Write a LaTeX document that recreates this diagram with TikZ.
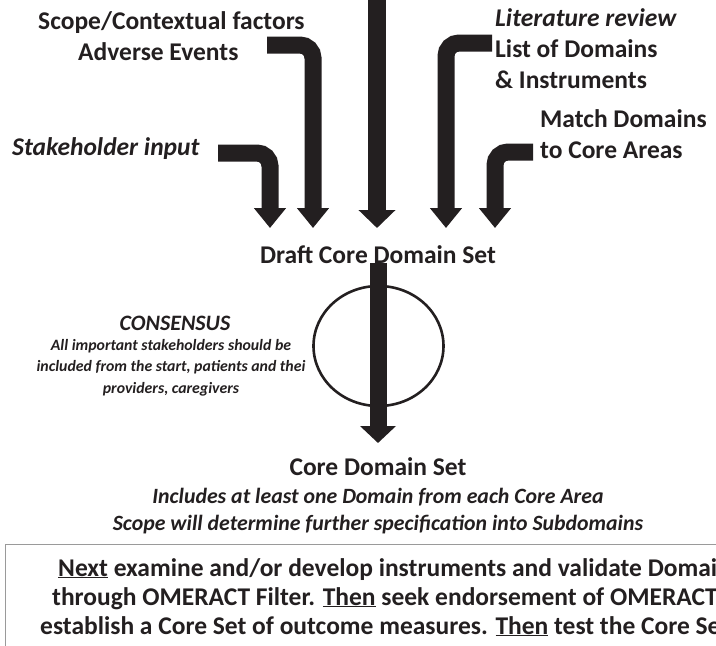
\documentclass[tikz,border=0pt]{standalone}
\usepackage{fontspec}
\setmainfont{Carlito}
\usetikzlibrary{arrows.meta}
\definecolor{ink}{HTML}{231F20}
\definecolor{boxgray}{HTML}{9A9A9A}

\begin{document}
\begin{tikzpicture}[x=1pt,y=-1pt,
    fatarrow/.style={line width=17pt, draw=ink, rounded corners=13pt,
      -{Triangle[width=31pt,length=20pt]}},
    mainarrow/.style={fatarrow, line width=18pt, -{Triangle[width=36pt,length=18pt]}},
    head/.style={inner sep=0pt, text=ink, font=\bfseries\fontsize{25.5}{31}\selectfont},
    note/.style={inner sep=0pt, text=ink, font=\bfseries\itshape\fontsize{21.8}{27}\selectfont},
    small/.style={inner sep=0pt, text=ink, font=\bfseries\itshape\fontsize{15.8}{21.5}\selectfont},
    boxtext/.style={inner sep=0pt, text=ink, anchor=base west, font=\bfseries\fontsize{25.5}{28}\selectfont}]
  \useasboundingbox (0,0) rectangle (716,646);
  \clip (0,0) rectangle (716,646);

  % inputs (base = last line)
  \node[head, anchor=base west, align=left] (scope) at (38,60) {Scope/Contextual factors\\\hspace*{40pt}Adverse Events};
  \node[head, anchor=base west] (stake) at (12,155) {\itshape Stakeholder input};
  \node[head, anchor=base west, align=left] (lit) at (495,88) {\itshape Literature review\\List of Domains\\\& Instruments};
  \node[head, anchor=base west, align=left] (match) at (540,158) {Match Domains\\to Core Areas};
  \node[head, anchor=base] (draft) at (378,263) {Draft Core Domain Set};

  \coordinate (fromA) at (218,153);
  \coordinate (fromB) at (267,45);
  \coordinate (fromC) at (377,-2);
  \coordinate (fromD) at (492,43);
  \coordinate (fromE) at (533,152);
  \coordinate (tipA) at (270,228);
  \coordinate (tipB) at (313,228);
  \coordinate (tipC) at (377,228);
  \coordinate (tipD) at (446,228);
  \coordinate (tipE) at (495,228);

  \draw[fatarrow] (fromA) -| (tipA);
  \draw[fatarrow] (fromB) -| (tipB);
  \draw[mainarrow] (fromC) -- (tipC);
  \draw[fatarrow] (fromD) -| (tipD);
  \draw[fatarrow] (fromE) -| (tipE);

  % consensus
  \node[inner sep=0pt, text=ink, anchor=base, font=\bfseries\itshape\fontsize{22}{24}\selectfont] (consensus) at (175,330) {CONSENSUS};
  \node[small, anchor=base, align=center] (who) at (171,393) {All important stakeholders should be\\included from the start, patients and thei\\providers, caregivers};
  \draw[line width=2.6pt, draw=ink] (378.5,346) ellipse [x radius=65, y radius=60];
  \coordinate (tipCore) at (378,443);
  \draw[mainarrow, line width=17pt, -{Triangle[width=35pt,length=17pt]}] (draft.south) -- (tipCore);

  % result
  \node[head, anchor=base] (core) at (378,475) {Core Domain Set};
  \node[note, anchor=base, align=center] (coreinfo) at (378,530) {Includes at least one Domain from each Core Area\\Scope will determine further specification into Subdomains};

  % next steps
  \draw[boxgray, line width=1pt] (5,544) rectangle (760,700);
  \node[boxtext] (next1) at (58,576) {\underline{Next} examine and/or develop instruments and validate Domai};
  \node[boxtext] (next2) at (52,605) {through OMERACT Filter. \underline{Then} seek endorsement of OMERACT};
  \node[boxtext] (next3) at (40,634) {establish a Core Set of outcome measures. \underline{Then} test the Core Se};
\end{tikzpicture}
\end{document}
